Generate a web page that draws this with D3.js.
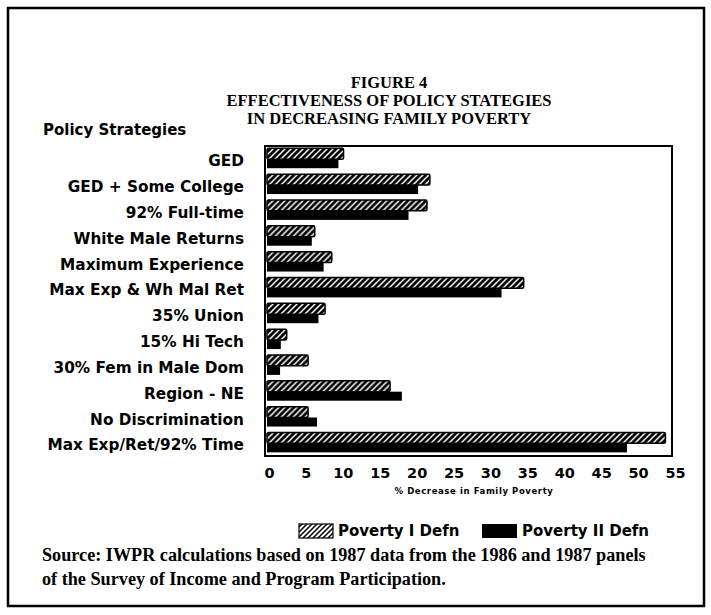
<!DOCTYPE html>
<html>
<head>
<meta charset="utf-8">
<script src="https://cdn.jsdelivr.net/npm/d3@7"></script>
<style>
  html, body { margin: 0; padding: 0; background: #fff; }
  svg { display: block; }
</style>
</head>
<body>
<svg id="chart" width="711" height="615"></svg>
<script>
// ---- data ----
const categories = [
  "GED",
  "GED + Some College",
  "92% Full-time",
  "White Male Returns",
  "Maximum Experience",
  "Max Exp & Wh Mal Ret",
  "35% Union",
  "15% Hi Tech",
  "30% Fem in Male Dom",
  "Region - NE",
  "No Discrimination",
  "Max Exp/Ret/92% Time"
];
const povertyI  = [10.1, 21.8, 21.4, 6.2, 8.5, 34.5, 7.6, 2.4, 5.3, 16.4, 5.3, 53.7];
const povertyII = [9.4, 20.2, 18.9, 5.8, 7.4, 31.5, 6.7, 1.6, 1.5, 18.0, 6.5, 48.5];
const xTicks = [0, 5, 10, 15, 20, 25, 30, 35, 40, 45, 50, 55];
const seriesNames = ["Poverty I Defn", "Poverty II Defn"];
const titleLines = ["FIGURE 4", "EFFECTIVENESS OF POLICY STATEGIES", "IN DECREASING FAMILY POVERTY"];
const sourceLines = [
  "Source: IWPR calculations based on 1987 data from the 1986 and 1987 panels",
  "of the Survey of Income and Program Participation."
];

// ---- layout ----
const svg = d3.select("#chart");
const frame = { left: 265, right: 672, top: 146, bottom: 456 };

const x = d3.scaleLinear().domain([0, 55]).range([269, 675]);
const y = d3.scaleBand().domain(categories).range([frame.top, frame.bottom]).paddingInner(0).paddingOuter(0);

const defs = svg.append("defs");
// hatch for bars: black with white diagonal strokes
const pat = defs.append("pattern").attr("id", "hatchBar").attr("patternUnits", "userSpaceOnUse")
  .attr("width", 6).attr("height", 6);
pat.append("rect").attr("width", 6).attr("height", 6).attr("fill", "#000");
pat.append("path").attr("d", "M-1,7 L7,-1 M-4,4 L4,-4 M2,10 L10,2").attr("stroke", "#fff").attr("stroke-width", 1.5);
// hatch for legend: white with black diagonals
const pat2 = defs.append("pattern").attr("id", "hatchLeg").attr("patternUnits", "userSpaceOnUse")
  .attr("width", 5).attr("height", 5);
pat2.append("rect").attr("width", 5).attr("height", 5).attr("fill", "#fff");
pat2.append("path").attr("d", "M-1,6 L6,-1 M-3,3 L3,-3 M2,8 L8,2").attr("stroke", "#000").attr("stroke-width", 1.5);

// outer border
svg.append("rect").attr("x", 8).attr("y", 8).attr("width", 696).attr("height", 598)
  .attr("fill", "none").attr("stroke", "#000").attr("stroke-width", 2.5);

// title
const serif = "'Liberation Serif', 'Times New Roman', serif";
const sans = "'DejaVu Sans', Verdana, sans-serif";
svg.append("g").selectAll("text").data(titleLines).join("text")
  .attr("x", 389).attr("y", (d, i) => 88 + i * 18)
  .attr("text-anchor", "middle")
  .attr("font-family", serif).attr("font-weight", "bold").attr("font-size", 16.5)
  .text(d => d);

svg.append("text").attr("x", 43).attr("y", 135)
  .attr("font-family", sans).attr("font-weight", "bold").attr("font-size", 15)
  .text("Policy Strategies");

// plot frame
svg.append("rect").attr("x", frame.left).attr("y", frame.top)
  .attr("width", frame.right - frame.left).attr("height", frame.bottom - frame.top)
  .attr("fill", "none").attr("stroke", "#000").attr("stroke-width", 2);

// bars
const bw = y.bandwidth();
const rows = svg.append("g").selectAll("g").data(categories).join("g")
  .attr("transform", d => `translate(0,${y(d)})`);
rows.append("rect")
  .attr("x", x(0) - 2).attr("y", bw * 0.09)
  .attr("width", (d, i) => x(povertyI[i]) - x(0) + 2).attr("height", bw * 0.42)
  .attr("fill", "url(#hatchBar)").attr("stroke", "#000").attr("stroke-width", 1.5).attr("rx", 1.5);
rows.append("rect")
  .attr("x", x(0) - 2).attr("y", bw * 0.51)
  .attr("width", (d, i) => x(povertyII[i]) - x(0) + 2).attr("height", bw * 0.35)
  .attr("fill", "#000");

// category labels
svg.append("g").selectAll("text").data(categories).join("text")
  .attr("x", 244).attr("y", d => y(d) + bw / 2 + 2)
  .attr("dy", "0.35em").attr("text-anchor", "end")
  .attr("font-family", sans).attr("font-weight", "bold").attr("font-size", 15.3)
  .text(d => d);

// x axis tick labels
const xAxis = d3.axisBottom(x).tickValues(xTicks).tickSize(0).tickPadding(0);
const gx = svg.append("g").attr("transform", `translate(0,${frame.bottom + 12})`).call(xAxis);
gx.select(".domain").remove();
gx.selectAll("text").attr("font-family", sans).attr("font-weight", "bold").attr("font-size", 14.5)
  .attr("fill", "#000");

svg.append("text").attr("x", 474).attr("y", 494).attr("text-anchor", "middle")
  .attr("font-family", sans).attr("font-weight", "bold").attr("font-size", 8.5)
  .attr("letter-spacing", 0.6)
  .text("% Decrease in Family Poverty");

// legend
const leg = svg.append("g").attr("transform", "translate(0,531)");
leg.append("rect").attr("x", 299).attr("y", -7).attr("width", 34).attr("height", 14)
  .attr("fill", "url(#hatchLeg)").attr("stroke", "#000").attr("stroke-width", 1.2);
leg.append("text").attr("x", 338).attr("y", 0).attr("dy", "0.35em")
  .attr("font-family", sans).attr("font-weight", "bold").attr("font-size", 15)
  .text(seriesNames[0]);
leg.append("rect").attr("x", 482).attr("y", -7).attr("width", 35).attr("height", 14).attr("fill", "#000");
leg.append("text").attr("x", 522).attr("y", 0).attr("dy", "0.35em")
  .attr("font-family", sans).attr("font-weight", "bold").attr("font-size", 15)
  .text(seriesNames[1]);

// source
svg.append("g").selectAll("text").data(sourceLines).join("text")
  .attr("x", 42).attr("y", (d, i) => 561 + i * 24)
  .attr("font-family", serif).attr("font-weight", "bold").attr("font-size", 18.2)
  .text(d => d);
</script>
</body>
</html>
